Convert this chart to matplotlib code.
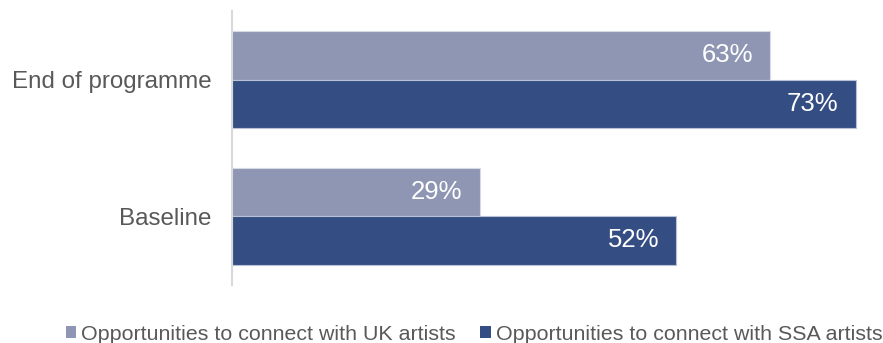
import matplotlib
matplotlib.use("Agg")
import matplotlib.pyplot as plt
from matplotlib.patches import Patch
import numpy as np

categories = ["Baseline", "End of programme"]
series_names = ["Opportunities to connect with UK artists",
                "Opportunities to connect with SSA artists"]
uk_values = [29, 63]
ssa_values = [52, 73]

light = "#8E96B4"
dark = "#344D83"
text_grey = "#595959"

plt.rcParams["font.family"] = ["Liberation Sans", "DejaVu Sans"]

fig = plt.figure(figsize=(8.83, 3.43), dpi=100)
W, H = 883, 343
ax_left, ax_right = 232, 873
ax_top, ax_bottom = 11, 285
ax = fig.add_axes([ax_left / W, 1 - ax_bottom / H,
                   (ax_right - ax_left) / W, (ax_bottom - ax_top) / H])

y = np.arange(len(categories))
bar_h = 0.355
off = bar_h / 2

ax.barh(y + off, uk_values, height=bar_h, color=light,
        edgecolor="#D6DAE6", linewidth=0.8)
ax.barh(y - off, ssa_values, height=bar_h, color=dark,
        edgecolor="#B9C1D6", linewidth=0.8)

ax.set_xlim(0, 75)
ax.set_ylim(-0.505, 1.502)

for yy, v in zip(y + off, uk_values):
    ax.annotate(f"{v}%", (v, yy), xytext=(-12.5, 0), textcoords="offset points",
                ha="right", va="center", color="white", fontsize=18.5)
for yy, v in zip(y - off, ssa_values):
    ax.annotate(f"{v}%", (v, yy), xytext=(-12.5, 0), textcoords="offset points",
                ha="right", va="center", color="white", fontsize=18.5)

ax.set_yticks(y)
ax.set_yticklabels(categories, fontsize=17.4, color=text_grey)
ax.tick_params(axis="y", length=0, pad=15)
ax.set_xticks([])

for s in ["top", "right", "bottom"]:
    ax.spines[s].set_visible(False)
ax.spines["left"].set_color("#D9D9D9")
ax.spines["left"].set_linewidth(1.5)

handles = [Patch(facecolor=light, edgecolor="none"),
           Patch(facecolor=dark, edgecolor="none")]
fig.legend(handles, series_names, loc="center", ncol=2,
           bbox_to_anchor=(474 / W, 1 - 334 / H), frameon=False,
           prop={"size": 15.4},
           labelcolor=text_grey, handlelength=0.5, handleheight=0.5,
           handletextpad=0.22, columnspacing=1.15, borderpad=0)

fig.savefig("out.png", dpi=100)
